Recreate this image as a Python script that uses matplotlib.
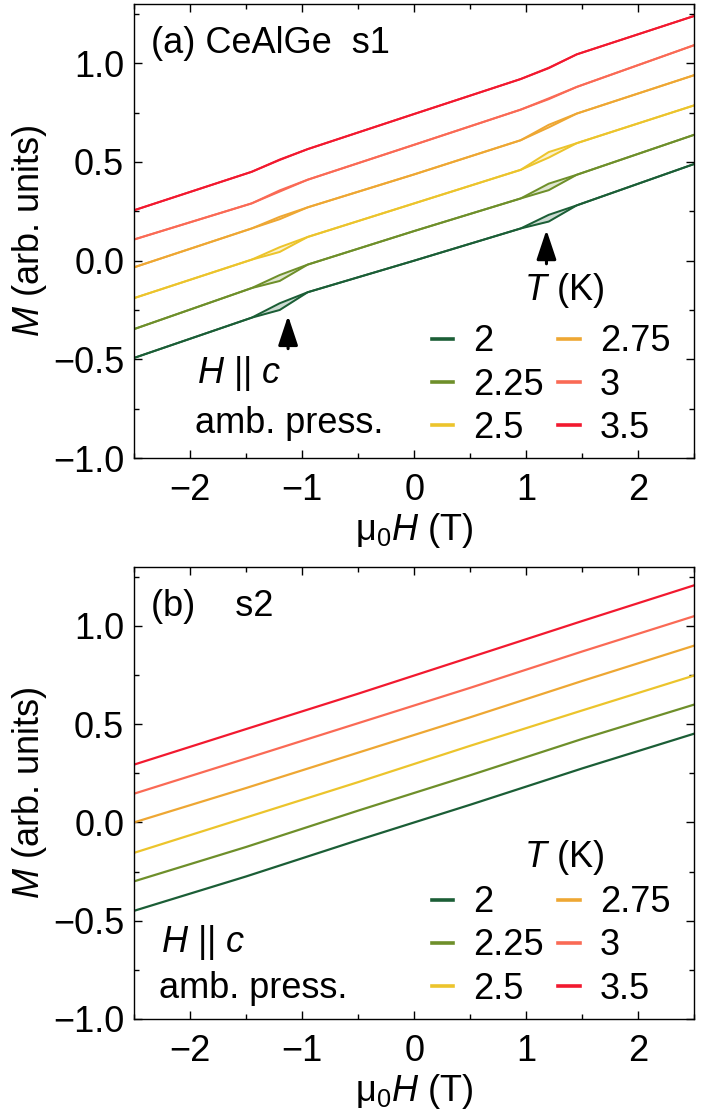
import matplotlib
matplotlib.use('Agg')
import matplotlib.pyplot as plt
from matplotlib.ticker import MultipleLocator, FuncFormatter

plt.rcParams['font.family'] = ['Liberation Sans', 'DejaVu Sans']
plt.rcParams['mathtext.fontset'] = 'custom'
plt.rcParams['mathtext.rm'] = 'Liberation Sans'
plt.rcParams['mathtext.it'] = 'Liberation Sans:italic'

# ------------------------------------------------------------------ #
# Data                                          #
# ------------------------------------------------------------------ #
TEMPS = ['2', '2.25', '2.5', '2.75', '3', '3.5']
COLORS = ['#1b5e36', '#6e8f2a', '#ecc42c', '#eea733', '#fa6a55', '#f2192f']

# panel (a): sample s1, field knots; loops sit around +-1.2 T
H_A = [-2.5, -1.45, -1.2, -0.95, 0.0, 0.95, 1.2, 1.45, 2.5]
M_A_T200 = [-0.493, -0.289, -0.250, -0.160, 0.000, 0.163, 0.198, 0.280, 0.490]
M_A_T225 = [-0.347, -0.139, -0.103, -0.020, 0.150, 0.315, 0.357, 0.435, 0.638]
M_A_T250 = [-0.190, 0.005, 0.044, 0.120, 0.290, 0.460, 0.522, 0.595, 0.787]
M_A_T275 = [-0.034, 0.163, 0.210, 0.270, 0.437, 0.610, 0.675, 0.745, 0.940]
M_A_T300 = [0.107, 0.290, 0.350, 0.410, 0.587, 0.765, 0.818, 0.880, 1.092]
M_A_T350 = [0.255, 0.450, 0.510, 0.565, 0.743, 0.920, 0.975, 1.045, 1.240]
# other sweep branch, values at -1.2 T and +1.2 T
LOOP_A = [(-0.216, 0.232), (-0.073, 0.390), (0.068, 0.550),
          (0.222, 0.688), (0.356, 0.822), (0.512, 0.977)]

# panel (b): sample s2, almost straight
H_B = [-2.5, -1.5, -0.5, 0.5, 1.5, 2.5]
M_B_T200 = [-0.450, -0.275, -0.090, 0.090, 0.275, 0.452]
M_B_T225 = [-0.300, -0.125, 0.060, 0.240, 0.425, 0.600]
M_B_T250 = [-0.155, 0.025, 0.205, 0.390, 0.570, 0.748]
M_B_T275 = [0.000, 0.175, 0.355, 0.535, 0.720, 0.900]
M_B_T300 = [0.146, 0.325, 0.505, 0.685, 0.870, 1.050]
M_B_T350 = [0.294, 0.475, 0.655, 0.840, 1.025, 1.207]

M_A = [M_A_T200, M_A_T225, M_A_T250, M_A_T275, M_A_T300, M_A_T350]
M_B = [M_B_T200, M_B_T225, M_B_T250, M_B_T275, M_B_T300, M_B_T350]

FS = 26
LW = 1.6


def minus_fmt(fmt):
    return FuncFormatter(lambda v, p: fmt.format(v).replace('-', '\u2212'))


def style_axes(ax):
    ax.set_xlim(-2.5, 2.5)
    ax.set_ylim(-1.0, 1.3)
    ax.xaxis.set_major_locator(MultipleLocator(1))
    ax.xaxis.set_minor_locator(MultipleLocator(0.5))
    ax.yaxis.set_major_locator(MultipleLocator(0.5))
    ax.yaxis.set_minor_locator(MultipleLocator(0.25))
    ax.xaxis.set_major_formatter(minus_fmt('{:.0f}'))
    ax.yaxis.set_major_formatter(minus_fmt('{:.1f}'))
    ax.tick_params(which='both', direction='in', top=True, right=True,
                   width=1.0, labelsize=FS)
    ax.tick_params(which='major', length=6)
    ax.tick_params(which='minor', length=3.5)
    ax.tick_params(axis='x', pad=11)
    ax.tick_params(axis='y', pad=7)
    for s in ax.spines.values():
        s.set_linewidth(1.0)
    ax.set_xlabel(r'$\mathrm{\mu}_0H$ (T)', fontsize=FS, labelpad=2)
    ax.set_ylabel(r'$M$ (arb. units)', fontsize=FS, labelpad=3)


def add_legend(ax, anchor, title_y):
    leg = ax.legend(ncol=2, loc='lower right', bbox_to_anchor=anchor,
                    frameon=False, fontsize=FS,
                    handlelength=0.6, handletextpad=0.55,
                    columnspacing=0.4, labelspacing=0.23, borderpad=0.0)
    for ln in leg.get_lines():
        ln.set_linewidth(2.6)
    ax.text(0.768, title_y, r'$T$ (K)', transform=ax.transAxes,
            fontsize=FS, ha='center', va='center')


fig = plt.figure(figsize=(7.05, 11.18), dpi=100)
ax_a = fig.add_axes([0.190, 0.5903, 0.795, 0.4061])
ax_b = fig.add_axes([0.190, 0.0886, 0.795, 0.4043])

# ---- panel (a) ----
for T, c, m, loop in zip(TEMPS, COLORS, M_A, LOOP_A):
    other = list(m)
    other[2] = loop[0]
    other[6] = loop[1]
    ax_a.fill_between(H_A, m, other, color=c, alpha=0.22, lw=0)
    ax_a.plot(H_A, other, color=c, lw=LW * 0.9)
    ax_a.plot(H_A, m, color=c, lw=LW * 0.9, label=T)

arrow = dict(arrowstyle='-|>,head_width=0.3,head_length=0.9',
             color='k', lw=2.2, mutation_scale=20)
ax_a.annotate('', xy=(1.18, 0.17), xytext=(1.18, -0.03), arrowprops=arrow)
ax_a.annotate('', xy=(-1.125, -0.265), xytext=(-1.125, -0.46), arrowprops=arrow)

ax_a.text(0.03, 0.912, '(a) CeAlGe  s1', transform=ax_a.transAxes,
          fontsize=FS, va='center', ha='left')
ax_a.text(0.112, 0.187, r'$H$ || $c$', transform=ax_a.transAxes,
          fontsize=FS, va='center', ha='left')
ax_a.text(0.109, 0.075, 'amb. press.', transform=ax_a.transAxes,
          fontsize=FS, va='center', ha='left')
style_axes(ax_a)
add_legend(ax_a, (0.989, -0.013), 0.37)

# ---- panel (b) ----
for T, c, m in zip(TEMPS, COLORS, M_B):
    ax_b.plot(H_B, m, color=c, lw=LW, label=T)

ax_b.text(0.03, 0.912, '(b)    s2', transform=ax_b.transAxes,
          fontsize=FS, va='center', ha='left')
ax_b.text(0.048, 0.17, r'$H$ || $c$', transform=ax_b.transAxes,
          fontsize=FS, va='center', ha='left')
ax_b.text(0.045, 0.068, 'amb. press.', transform=ax_b.transAxes,
          fontsize=FS, va='center', ha='left')
style_axes(ax_b)
add_legend(ax_b, (0.989, -0.013), 0.358)

fig.savefig('out.png', dpi=100)
